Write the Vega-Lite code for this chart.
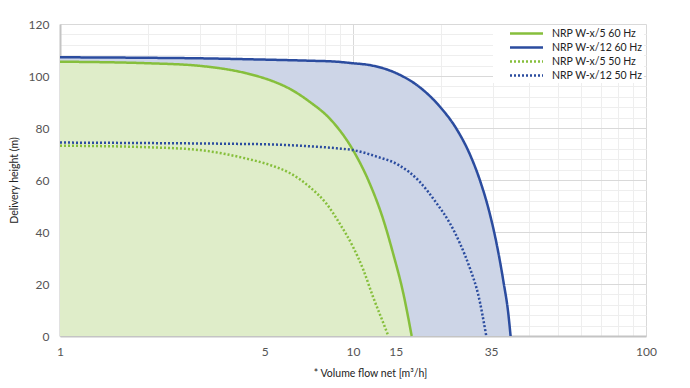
{
  "$schema": "https://vega.github.io/schema/vega-lite/v6.json",
  "width": 586,
  "height": 312,
  "autosize": {"type": "none"},
  "padding": {"left": 60, "top": 24, "right": 44, "bottom": 52},
  "background": "white",
  "config": {"view": {"stroke": null}, "font": "Lato"},
  "data": {
    "values": [
      {"series": "NRP W-x/12 60 Hz", "q": 1, "h": 107.2},
      {"series": "NRP W-x/12 60 Hz", "q": 2, "h": 107.0},
      {"series": "NRP W-x/12 60 Hz", "q": 3, "h": 106.8},
      {"series": "NRP W-x/12 60 Hz", "q": 5, "h": 106.3},
      {"series": "NRP W-x/12 60 Hz", "q": 7, "h": 105.9},
      {"series": "NRP W-x/12 60 Hz", "q": 8.8, "h": 105.5},
      {"series": "NRP W-x/12 60 Hz", "q": 10, "h": 104.9},
      {"series": "NRP W-x/12 60 Hz", "q": 11.4, "h": 104.2},
      {"series": "NRP W-x/12 60 Hz", "q": 14.1, "h": 101.0},
      {"series": "NRP W-x/12 60 Hz", "q": 16.8, "h": 95.9},
      {"series": "NRP W-x/12 60 Hz", "q": 19.8, "h": 88.2},
      {"series": "NRP W-x/12 60 Hz", "q": 22.6, "h": 79.5},
      {"series": "NRP W-x/12 60 Hz", "q": 25.07, "h": 69.8},
      {"series": "NRP W-x/12 60 Hz", "q": 27.13, "h": 59.8},
      {"series": "NRP W-x/12 60 Hz", "q": 29.35, "h": 46.7},
      {"series": "NRP W-x/12 60 Hz", "q": 31.0, "h": 34.8},
      {"series": "NRP W-x/12 60 Hz", "q": 32.6, "h": 21.1},
      {"series": "NRP W-x/12 60 Hz", "q": 33.9, "h": 8.5},
      {"series": "NRP W-x/12 60 Hz", "q": 34.5, "h": 0},
      {"series": "NRP W-x/5 60 Hz", "q": 1, "h": 105.5},
      {"series": "NRP W-x/5 60 Hz", "q": 2, "h": 104.9},
      {"series": "NRP W-x/5 60 Hz", "q": 3, "h": 103.9},
      {"series": "NRP W-x/5 60 Hz", "q": 4.34, "h": 101.0},
      {"series": "NRP W-x/5 60 Hz", "q": 5.35, "h": 97.9},
      {"series": "NRP W-x/5 60 Hz", "q": 6.1, "h": 95.0},
      {"series": "NRP W-x/5 60 Hz", "q": 7.13, "h": 90.0},
      {"series": "NRP W-x/5 60 Hz", "q": 8.35, "h": 83.5},
      {"series": "NRP W-x/5 60 Hz", "q": 10, "h": 71.5},
      {"series": "NRP W-x/5 60 Hz", "q": 11.4, "h": 58.7},
      {"series": "NRP W-x/5 60 Hz", "q": 12.7, "h": 44.6},
      {"series": "NRP W-x/5 60 Hz", "q": 13.7, "h": 31.8},
      {"series": "NRP W-x/5 60 Hz", "q": 14.85, "h": 16.4},
      {"series": "NRP W-x/5 60 Hz", "q": 15.86, "h": 0},
      {"series": "NRP W-x/12 50 Hz", "q": 1, "h": 74.4},
      {"series": "NRP W-x/12 50 Hz", "q": 2, "h": 74.2},
      {"series": "NRP W-x/12 50 Hz", "q": 4, "h": 73.9},
      {"series": "NRP W-x/12 50 Hz", "q": 5.2, "h": 73.7},
      {"series": "NRP W-x/12 50 Hz", "q": 6.8, "h": 73.1},
      {"series": "NRP W-x/12 50 Hz", "q": 8.8, "h": 72.2},
      {"series": "NRP W-x/12 50 Hz", "q": 10, "h": 71.5},
      {"series": "NRP W-x/12 50 Hz", "q": 12.05, "h": 69.0},
      {"series": "NRP W-x/12 50 Hz", "q": 14.3, "h": 65.8},
      {"series": "NRP W-x/12 50 Hz", "q": 16.8, "h": 59.6},
      {"series": "NRP W-x/12 50 Hz", "q": 19.3, "h": 51.0},
      {"series": "NRP W-x/12 50 Hz", "q": 21.43, "h": 43.3},
      {"series": "NRP W-x/12 50 Hz", "q": 23.18, "h": 35.6},
      {"series": "NRP W-x/12 50 Hz", "q": 25.07, "h": 26.0},
      {"series": "NRP W-x/12 50 Hz", "q": 26.77, "h": 15.8},
      {"series": "NRP W-x/12 50 Hz", "q": 28.5, "h": 0},
      {"series": "NRP W-x/5 50 Hz", "q": 1, "h": 73.2},
      {"series": "NRP W-x/5 50 Hz", "q": 2, "h": 72.6},
      {"series": "NRP W-x/5 50 Hz", "q": 3, "h": 71.5},
      {"series": "NRP W-x/5 50 Hz", "q": 4.3, "h": 68.3},
      {"series": "NRP W-x/5 50 Hz", "q": 5.2, "h": 65.8},
      {"series": "NRP W-x/5 50 Hz", "q": 6.1, "h": 62.6},
      {"series": "NRP W-x/5 50 Hz", "q": 7.1, "h": 57.4},
      {"series": "NRP W-x/5 50 Hz", "q": 8.1, "h": 51.0},
      {"series": "NRP W-x/5 50 Hz", "q": 9.0, "h": 43.3},
      {"series": "NRP W-x/5 50 Hz", "q": 10, "h": 34.3},
      {"series": "NRP W-x/5 50 Hz", "q": 10.85, "h": 25.4},
      {"series": "NRP W-x/5 50 Hz", "q": 11.7, "h": 15.1},
      {"series": "NRP W-x/5 50 Hz", "q": 12.7, "h": 4.9},
      {"series": "NRP W-x/5 50 Hz", "q": 13.2, "h": 0}
    ]
  },
  "encoding": {
    "x": {
      "field": "q",
      "type": "quantitative",
      "scale": {"type": "log", "domain": [1, 100], "nice": false},
      "axis": {
        "values": [1, 2, 3, 4, 5, 6, 7, 8, 9, 10, 14, 20, 29.6, 30, 40, 50, 60, 70, 80, 90, 100],
        "labelExpr": "datum.value==1?'1':datum.value==5?'5':datum.value==10?'10':datum.value==14?'15':datum.value==29.6?'35':datum.value==100?'100':''",
        "ticks": false,
        "labelPadding": 10,
        "labelFontSize": 12,
        "labelColor": "#555555",
        "labelFlush": false,
        "labelOverlap": false,
        "domainColor": "#c4c4c4",
        "domainWidth": 2,
        "grid": true,
        "gridColor": {"condition": {"test": "datum.value==1||datum.value==10||datum.value==100", "value": "#d9d9d9"}, "value": "#eeeeee"},
        "gridOpacity": {"condition": {"test": "datum.value==14||datum.value==29.6", "value": 0}, "value": 1},
        "title": "* Volume flow net [m³/h]",
        "titleFontSize": 10.5,
        "titleFontWeight": "normal",
        "titleColor": "#222222",
        "titleX": 310,
        "titleY": 40,
        "titleAlign": "center",
        "titleBaseline": "alphabetic"
      }
    },
    "y": {
      "field": "h",
      "type": "quantitative",
      "scale": {"domain": [0, 120], "nice": false},
      "axis": {
        "values": [0, 4, 8, 12, 16, 20, 24, 28, 32, 36, 40, 44, 48, 52, 56, 60, 64, 68, 72, 76, 80, 84, 88, 92, 96, 100, 104, 108, 112, 116, 120],
        "labelExpr": "datum.value % 20 === 0 ? datum.label : ''",
        "ticks": false,
        "labelPadding": 11,
        "labelFontSize": 12,
        "labelColor": "#555555",
        "labelOverlap": false,
        "labelFlush": false,
        "domainColor": "#c4c4c4",
        "domainWidth": 2,
        "grid": true,
        "gridColor": {"condition": {"test": "datum.value % 20 === 0", "value": "#d9d9d9"}, "value": "#eeeeee"},
        "title": "Delivery height (m)",
        "titleFontSize": 10.5,
        "titleFontWeight": "normal",
        "titleColor": "#222222",
        "titleX": -43,
        "titleY": 156,
        "titleAlign": "center",
        "titleBaseline": "alphabetic",
        "titleAngle": -90
      }
    }
  },
  "layer": [
    {
      "transform": [{"filter": "datum.series === 'NRP W-x/12 60 Hz'"}],
      "mark": {"type": "area", "color": "#cdd5e7", "opacity": 1, "interpolate": "monotone"}
    },
    {
      "transform": [{"filter": "datum.series === 'NRP W-x/5 60 Hz'"}],
      "mark": {"type": "area", "color": "#dfedc9", "opacity": 1, "interpolate": "monotone"}
    },
    {
      "mark": {"type": "line", "interpolate": "monotone", "strokeWidth": 2.5},
      "encoding": {
        "color": {
          "field": "series",
          "type": "nominal",
          "scale": {
            "domain": ["NRP W-x/5 60 Hz", "NRP W-x/12 60 Hz", "NRP W-x/5 50 Hz", "NRP W-x/12 50 Hz"],
            "range": ["#86bf3c", "#2b4c9f", "#86bf3c", "#2b4c9f"]
          },
          "legend": {
            "title": null,
            "orient": "none",
            "legendX": 433,
            "legendY": 1,
            "padding": 1.5,
            "fillColor": "white",
            "symbolType": "M-3,0H3",
            "symbolSize": 121,
            "symbolStrokeWidth": 2.5,
            "symbolOffset": 25,
            "labelFontSize": 10.5,
            "labelColor": "#222222",
            "labelOffset": 18.5,
            "rowPadding": 1
          }
        },
        "strokeDash": {
          "field": "series",
          "type": "nominal",
          "scale": {
            "domain": ["NRP W-x/5 60 Hz", "NRP W-x/12 60 Hz", "NRP W-x/5 50 Hz", "NRP W-x/12 50 Hz"],
            "range": [[1, 0], [1, 0], [2, 2], [2, 2]]
          },
          "legend": {
            "title": null,
            "orient": "none",
            "legendX": 433,
            "legendY": 1,
            "padding": 1.5,
            "fillColor": "white",
            "symbolType": "M-3,0H3",
            "symbolSize": 121,
            "symbolStrokeWidth": 2.5,
            "symbolOffset": 25,
            "labelFontSize": 10.5,
            "labelColor": "#222222",
            "labelOffset": 18.5,
            "rowPadding": 1
          }
        }
      }
    }
  ]
}
